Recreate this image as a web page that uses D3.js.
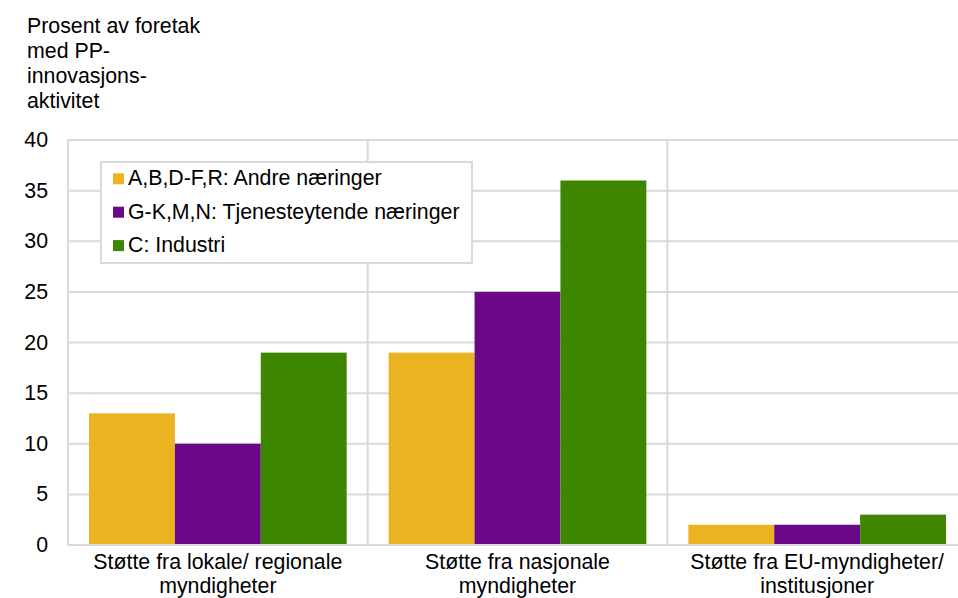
<!DOCTYPE html>
<html><head><meta charset="utf-8">
<script src="https://cdn.jsdelivr.net/npm/d3@7"></script>
<style>body{margin:0;background:#fff}text{font-family:"Liberation Sans",Arial,sans-serif;fill:#000}</style>
</head><body><svg id="c" width="958" height="598"></svg>
<script>
const categories = [["Støtte fra lokale/ regionale","myndigheter"],["Støtte fra nasjonale","myndigheter"],["Støtte fra EU-myndigheter/","institusjoner"]];
const seriesNames = ["A,B,D-F,R: Andre næringer","G-K,M,N: Tjenesteytende næringer","C: Industri"];
const seriesColors = ["#EBB322","#6B0887","#3E8502"];
const andre = [13, 19, 2];
const tjeneste = [10, 25, 2];
const industri = [19, 36, 3];
const yTicks = [0,5,10,15,20,25,30,35,40];
const titleLines = ["Prosent av foretak","med PP-","innovasjons-","aktivitet"];

const seriesValues = [andre, tjeneste, industri];
const FS = 21.33;
const svg = d3.select("#c");
const L = 68, R = 967, T = 140, B = 545;
const grid = "#d9d9d9";
const x0 = d3.scaleBand().domain(d3.range(categories.length)).range([L, R]).padding(0);
const x1 = d3.scaleBand().domain(d3.range(seriesNames.length)).range([21, x0.bandwidth()-21]).padding(0);
const y = d3.scaleLinear().domain([0,40]).range([B, T]);

// horizontal grid
svg.append("g").selectAll("line").data(yTicks).join("line")
  .attr("x1", L).attr("x2", 958).attr("y1", d=>y(d)).attr("y2", d=>y(d))
  .attr("stroke", grid).attr("stroke-width", 2);
// vertical separators
svg.append("g").selectAll("line").data(d3.range(categories.length+1)).join("line")
  .attr("x1", d=> d<categories.length ? x0(d) : R).attr("x2", d=> d<categories.length ? x0(d) : R)
  .attr("y1", T).attr("y2", B).attr("stroke", grid).attr("stroke-width", 2);

// y labels
svg.append("g").selectAll("text").data(yTicks).join("text")
  .attr("x", 48).attr("y", d=>y(d)+7).attr("text-anchor","end").attr("font-size",FS).text(d=>d);

// bars
const g = svg.append("g");
categories.forEach((c,ci)=>{
  seriesValues.forEach((vals,si)=>{
    g.append("rect").attr("x", x0(ci)+x1(si)).attr("width", x1.bandwidth())
      .attr("y", y(vals[ci])).attr("height", y(0)-y(vals[ci])).attr("fill", seriesColors[si]);
  });
});
svg.append("line").attr("x1",L).attr("x2",958).attr("y1",y(0)).attr("y2",y(0)).attr("stroke",grid).attr("stroke-width",2);

// x labels
categories.forEach((c,ci)=>{
  const cx = x0(ci)+x0.bandwidth()/2;
  c.forEach((line,li)=>{
    svg.append("text").attr("x",cx).attr("y",569+li*23.5).attr("text-anchor","middle").attr("font-size",FS).text(line);
  });
});

// title
titleLines.forEach((t,i)=>{
  svg.append("text").attr("x",27).attr("y",33+i*25).attr("font-size",FS).text(t);
});

// legend
const lg = svg.append("g");
lg.append("rect").attr("x",101).attr("y",162).attr("width",371).attr("height",101)
  .attr("fill","#fff").attr("stroke",grid).attr("stroke-width",2);
seriesNames.forEach((n,i)=>{
  const base = 185.3 + i*33.4;
  lg.append("rect").attr("x",113).attr("y",base-12).attr("width",11).attr("height",11).attr("fill",seriesColors[i]);
  lg.append("text").attr("x",128).attr("y",base).attr("font-size",FS).text(n);
});
</script></body></html>
